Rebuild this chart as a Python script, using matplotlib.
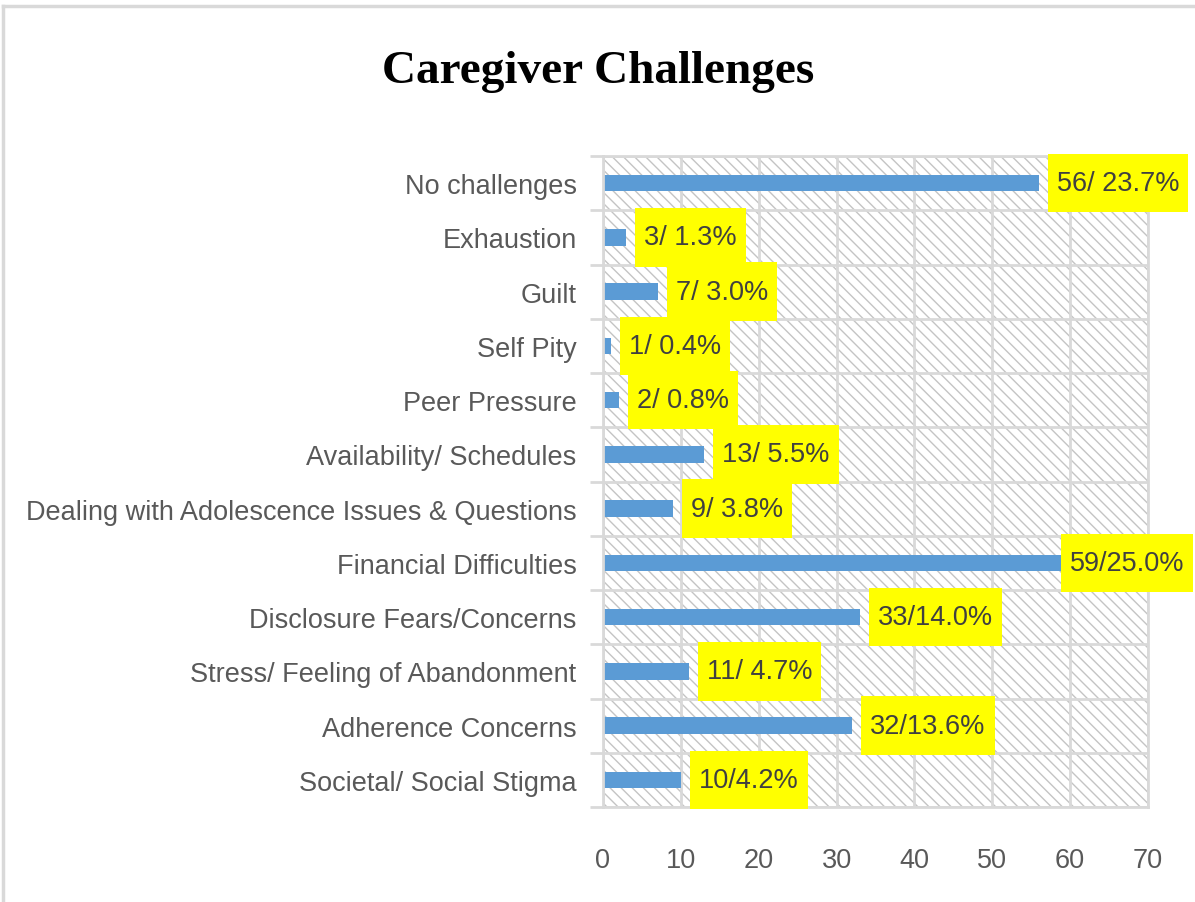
import numpy as np
import matplotlib.pyplot as plt
from matplotlib.patches import Rectangle
from matplotlib.lines import Line2D
from matplotlib.path import Path

categories = ["No challenges", "Exhaustion", "Guilt", "Self Pity", "Peer Pressure",
              "Availability/ Schedules", "Dealing with Adolescence Issues & Questions",
              "Financial Difficulties", "Disclosure Fears/Concerns",
              "Stress/ Feeling of Abandonment", "Adherence Concerns",
              "Societal/ Social Stigma"]
counts = [56, 3, 7, 1, 2, 13, 9, 59, 33, 11, 32, 10]
labels = ["56/ 23.7%", "3/ 1.3%", "7/ 3.0%", "1/ 0.4%", "2/ 0.8%", "13/ 5.5%",
          "9/ 3.8%", "59/25.0%", "33/14.0%", "11/ 4.7%", "32/13.6%", "10/4.2%"]
xticks = [0, 10, 20, 30, 40, 50, 60, 70]

plt.rcParams["font.family"] = ["Liberation Sans", "DejaVu Sans"]
plt.rcParams["hatch.linewidth"] = 1.0
plt.rcParams["hatch.color"] = "#c4c4c4"

grid_c = "#d9d9d9"
text_c = "#595959"


def tall_box(x0, y0, width, height, mutation_size):
    # label box: more room above/below than at the sides
    px, py = 0.33 * mutation_size, 0.6 * mutation_size
    x0, y0, x1, y1 = x0 - px, y0 - py, x0 + width + px, y0 + height + py
    return Path([(x0, y0), (x1, y0), (x1, y1), (x0, y1), (x0, y0)], closed=True)


fig = plt.figure(figsize=(11.95, 9.03), dpi=100)
ax = fig.add_axes([603/1195, 1 - 808/903, 545/1195, 651/903])

y = np.arange(len(categories))
ax.add_patch(Rectangle((0, 0), 1, 1, transform=ax.transAxes, facecolor="white",
                       edgecolor="#c4c4c4", hatch="\\\\\\", lw=0, zorder=0.1))
ax.barh(y, counts, height=0.3, color="#5b9bd5", zorder=2)

ax.set_xlim(0, 70)
ax.set_ylim(len(categories) - 0.5, -0.5)

texts = []
for yi, v, lab in zip(y, counts, labels):
    t = ax.annotate(lab, (v, yi), xytext=(13, 0), textcoords="offset points",
                    ha="left", va="center", fontsize=19.5, color="#404040",
                    bbox=dict(boxstyle=tall_box, fc="#ffff00", ec="none"),
                    clip_on=False, zorder=3)
    texts.append(t)

ax.set_xticks(xticks)
ax.set_yticks(y)
ax.set_yticklabels(categories)
ax.set_yticks(np.arange(-0.5, len(categories)), minor=True)
ax.set_axisbelow(True)
ax.grid(axis="x", color=grid_c, lw=2)
ax.grid(axis="y", which="minor", color=grid_c, lw=2)
ax.tick_params(axis="x", length=0, pad=29, labelsize=19.5, labelcolor=text_c)
ax.tick_params(axis="y", which="major", length=0, pad=19, labelsize=19.5, labelcolor=text_c)
ax.tick_params(axis="y", which="minor", length=9.5, width=2, color=grid_c)
for s in ax.spines.values():
    s.set_color(grid_c)
    s.set_linewidth(2)

fig.text(598/1195, 1 - 72/903, "Caregiver Challenges", ha="center", va="center",
         fontsize=34, fontweight="bold", family="Liberation Serif", color="black")

# outer chart border (cropped)
fig.add_artist(Line2D([3/1195, 1], [1 - 7/903, 1 - 7/903], transform=fig.transFigure,
                      color=grid_c, lw=2.5))
fig.add_artist(Line2D([3/1195, 3/1195], [0, 1 - 7/903], transform=fig.transFigure,
                      color=grid_c, lw=2.5))

# like Excel, pull labels back inside the chart edge if they overflow
fig.canvas.draw()
r = fig.canvas.get_renderer()
for t in texts:
    ext = t.get_bbox_patch().get_window_extent(r)
    over = ext.x1 - (fig.bbox.width - 2)
    if over > 0:
        t.xyann = (t.xyann[0] - over * 72 / fig.dpi, t.xyann[1])

fig.savefig("out.png", dpi=100)
